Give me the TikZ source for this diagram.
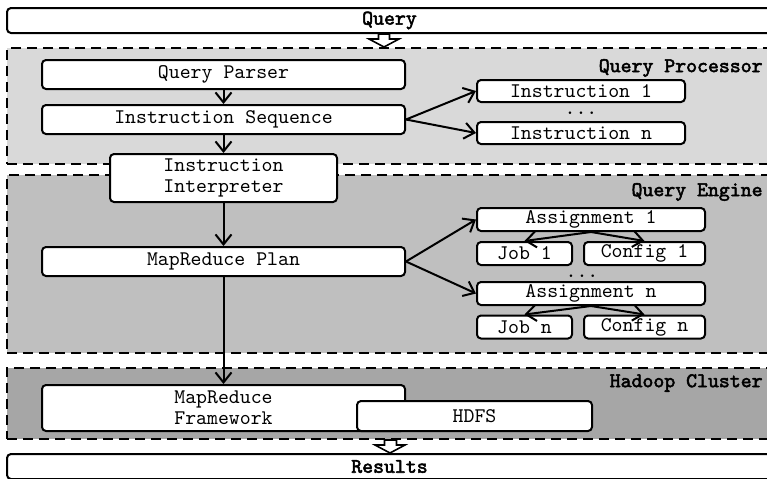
\documentclass[tikz,border=0pt]{standalone}
\usepackage{fontspec}
\newfontfamily\ttbold{lmmono10-regular}[Extension=.otf, FakeBold=2.5]
\usetikzlibrary{arrows.meta, positioning, calc}

\begin{document}
\begin{tikzpicture}[
    x=0.5pt, y=-0.5pt,
    box/.style={rectangle, draw, rounded corners=2pt, line width=1pt, fill=white, align=center, inner sep=0pt, font=\ttfamily\fontsize{10.4}{10.5}\selectfont},
    wide/.style={box, minimum width=181.5pt, minimum height=14.5pt},
    item/.style={box, minimum width=104pt, minimum height=11pt},
    assign/.style={box, minimum width=114pt, minimum height=11.5pt},
    band/.style={box, minimum width=382.5pt, minimum height=12.5pt, font=\ttbold\fontsize{10.4}{10.5}\selectfont},
    region/.style={rectangle, draw, dash pattern=on 5pt off 3pt, line width=1pt, inner sep=0pt, minimum width=382.5pt},
    heading/.style={anchor=east, inner sep=0pt, font=\ttbold\fontsize{10.4}{10.5}\selectfont},
    dots/.style={anchor=base, inner sep=0pt, font=\ttfamily\fontsize{10.4}{10.5}\selectfont},
    arrow/.style={-{Straight Barb[length=5pt, width=8pt]}, line width=1pt},
    hollow/.style={draw, fill=white, line width=0.8pt, line join=miter}
]
    \useasboundingbox (0,0) rectangle (767,478);
    \clip (0,0) rectangle (767,478);

    % regions
    \node[region, fill=black!15, minimum height=58pt] (proc)	at (389.5,106)	{};
    \node[region, fill=black!25, minimum height=89pt] (engine)	at (389.5,264)	{};
    \node[region, fill=black!35, minimum height=35.5pt] (hadoop)	at (389.5,403.5)	{};
    \node[heading] at (763,68)	{Query Processor};
    \node[heading] at (763,192)	{Query Engine};
    \node[heading] at (763,383)	{Hadoop Cluster};

    \node[band] (query)	at (389.5,20.5)	{Query};
    \node[band] (results)	at (389.5,466.5)	{Results};

    % main column
    \node[wide] (parser)	at (223.5,74.5)	{Query Parser};
    \node[wide, below=7pt of parser] (seq)	{Instruction Sequence};
    \node[box, minimum width=113.5pt, minimum height=24pt, below=9pt of seq] (interp)	{Instruction\\Interpreter};
    \node[wide, below=21.5pt of interp] (plan)	{MapReduce Plan};
    \node[wide, minimum height=23pt, below=53.5pt of plan] (frame)	{MapReduce\\Framework};
    \node[box, minimum width=117.5pt, minimum height=15pt] (hdfs)	at (474.5,416)	{HDFS};

    % instructions
    \node[item] (ins1)	at (581,91)	{Instruction 1};
    \node[dots]	at (581,114)	{...};
    \node[item] (insn)	at (581,133)	{Instruction n};

    % assignments
    \node[assign] (asg1)	at (591,219.5)	{Assignment 1};
    \node[box, minimum width=47.5pt, minimum height=11.5pt] (job1)	at (524.5,253.5)	{Job 1};
    \node[box, minimum width=60.5pt, minimum height=11.5pt] (cfg1)	at (644.5,253.5)	{Config 1};
    \node[dots]	at (582,277)	{...};
    \node[assign] (asgn)	at (591,293.5)	{Assignment n};
    \node[box, minimum width=47.5pt, minimum height=11.5pt] (jobn)	at (524.5,327)	{Job n};
    \node[box, minimum width=60.5pt, minimum height=11.5pt] (cfgn)	at (644.5,327)	{Config n};

    % hollow flow arrows
    \coordinate (qtip) at ($(proc.north)+(-5.5,0)$);
    \coordinate (rtip) at ($(results.north)+(0.5,0)$);
    \draw[hollow] (qtip) -- ++(-15,-8) -- ++(9.5,0) |- ($(query.south)+(-11,0)$) -- ++(11,0) |- ($(qtip)+(5.5,-8)$) -- ++(9.5,0) -- cycle;
    \draw[hollow] (rtip) -- ++(-15,-8) -- ++(9.5,0) |- ($(hadoop.south)+(-4,0)$) -- ++(11,0) |- ($(rtip)+(5.5,-8)$) -- ++(9.5,0) -- cycle;

    \draw[arrow] (parser) -- (seq);
    \draw[arrow] (seq.east) -- (ins1.west);
    \draw[arrow] (seq.east) -- (insn.west);
    \draw[arrow] (seq) -- (interp);
    \draw[arrow] (interp) -- (plan);
    \draw[arrow] (plan.east) -- (asg1.west);
    \draw[arrow] (plan.east) -- (asgn.west);
    \draw[arrow] (asg1.south) -- (job1.north);
    \draw[arrow] (asg1.south) -- (cfg1.north);
    \draw[arrow] (asgn.south) -- (jobn.north);
    \draw[arrow] (asgn.south) -- (cfgn.north);
    \draw[arrow] (plan) -- (frame);

\end{tikzpicture}
\end{document}
